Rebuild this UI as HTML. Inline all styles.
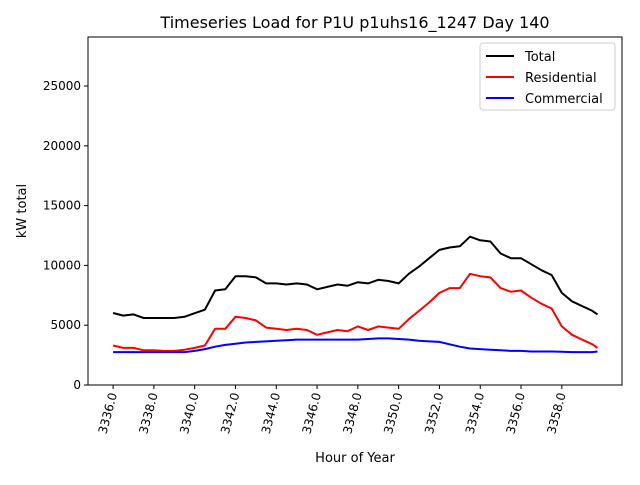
<!DOCTYPE html>
<html><head><meta charset="utf-8"><style>
body{margin:0;background:#fff}
svg text{font-family:"DejaVu Sans","Liberation Sans",sans-serif;fill:#000}
</style></head><body>
<svg id="chart" width="640" height="480" xmlns="http://www.w3.org/2000/svg"></svg>
<script>
const hours=[3336,3336.5,3337,3337.5,3338,3338.5,3339,3339.5,3340,3340.5,3341,3341.5,3342,3342.5,3343,3343.5,3344,3344.5,3345,3345.5,3346,3346.5,3347,3347.5,3348,3348.5,3349,3349.5,3350,3350.5,3351,3351.5,3352,3352.5,3353,3353.5,3354,3354.5,3355,3355.5,3356,3356.5,3357,3357.5,3358,3358.5,3359,3359.5,3359.75];
const totalLoad=[6020,5800,5900,5600,5600,5600,5600,5700,6000,6300,7900,8000,9100,9100,9000,8500,8500,8400,8500,8400,8000,8200,8400,8300,8600,8500,8800,8700,8500,9300,9900,10600,11300,11500,11600,12400,12100,12000,11000,10600,10600,10100,9600,9200,7700,7000,6600,6200,5900];
const residentialLoad=[3300,3100,3100,2900,2900,2850,2850,2950,3100,3300,4700,4700,5700,5600,5400,4800,4700,4600,4700,4600,4200,4400,4600,4500,4900,4600,4900,4800,4700,5500,6200,6900,7700,8100,8100,9300,9100,9000,8100,7800,7900,7300,6800,6400,4900,4200,3800,3400,3100];
const commercialLoad=[2750,2750,2750,2750,2750,2750,2750,2750,2850,3000,3200,3350,3450,3550,3600,3650,3700,3750,3800,3800,3800,3800,3800,3800,3800,3850,3900,3900,3850,3800,3700,3650,3600,3400,3200,3050,3000,2950,2900,2850,2850,2800,2800,2800,2780,2750,2750,2750,2800];
const yTicks=[0,5000,10000,15000,20000,25000];
const xTicks=[3336,3338,3340,3342,3344,3346,3348,3350,3352,3354,3356,3358];
const L=88,R=622,T=37,B=385,xMin=3334.77,xMax=3360.95,yMax=29100;
const xs=v=>L+(v-xMin)/(xMax-xMin)*(R-L);
const ys=v=>B-v/yMax*(B-T);
const svg=document.getElementById('chart');
const NS='http://www.w3.org/2000/svg';
function mk(tag,attrs,parent){const e=document.createElementNS(NS,tag);for(const k in attrs)e.setAttribute(k,attrs[k]);(parent||svg).appendChild(e);return e;}
let t=mk('text',{x:355,y:28,'text-anchor':'middle','font-size':16});t.textContent='Timeseries Load for P1U p1uhs16_1247  Day 140';


const yl=mk('text',{x:26,y:211,'text-anchor':'middle','font-size':13,transform:'rotate(-90 26 211)'});yl.textContent='kW total';


const xl=mk('text',{x:355,y:462,'text-anchor':'middle','font-size':13});xl.textContent='Hour of Year';


yTicks.forEach(v=>{const y=ys(v);mk('line',{x1:L-4,x2:L,y1:y,y2:y,stroke:'#000'});
const tx=mk('text',{x:L-7,y:y+4,'text-anchor':'end','font-size':12});tx.textContent=v;

});
xTicks.forEach(v=>{const x=xs(v);mk('line',{x1:x,x2:x,y1:B,y2:B+4,stroke:'#000'});
const tx=mk('text',{x:x+4,y:B+9,'text-anchor':'end','font-size':12,transform:`rotate(-75 ${x+4} ${B+9})`});tx.textContent=v.toFixed(1);

});
function line(data,color,name){const d=data.map((v,i)=>(i?'L':'M')+xs(hours[i]).toFixed(1)+','+ys(v).toFixed(1)).join('');
const p=mk('path',{d:d,fill:'none',stroke:color,'stroke-width':2,'stroke-linejoin':'round'});

}
line(totalLoad,'#000','total-line');
line(residentialLoad,'#f00','residential-line');
line(commercialLoad,'#00f','commercial-line');
const fr=mk('rect',{x:L,y:T,width:R-L,height:B-T,fill:'none',stroke:'#000','stroke-width':1});


const lg=mk('g',{});


mk('rect',{x:480,y:43,width:135,height:67,fill:'#fff',stroke:'#ccc',rx:3},lg);
[['Total','#000'],['Residential','#f00'],['Commercial','#00f']].forEach((e,i)=>{const y=56+i*21;
mk('line',{x1:486,x2:514,y1:y,y2:y,stroke:e[1],'stroke-width':2},lg);
const tx=mk('text',{x:525,y:y+5,'font-size':13},lg);tx.textContent=e[0];

});
</script>
</body></html>
